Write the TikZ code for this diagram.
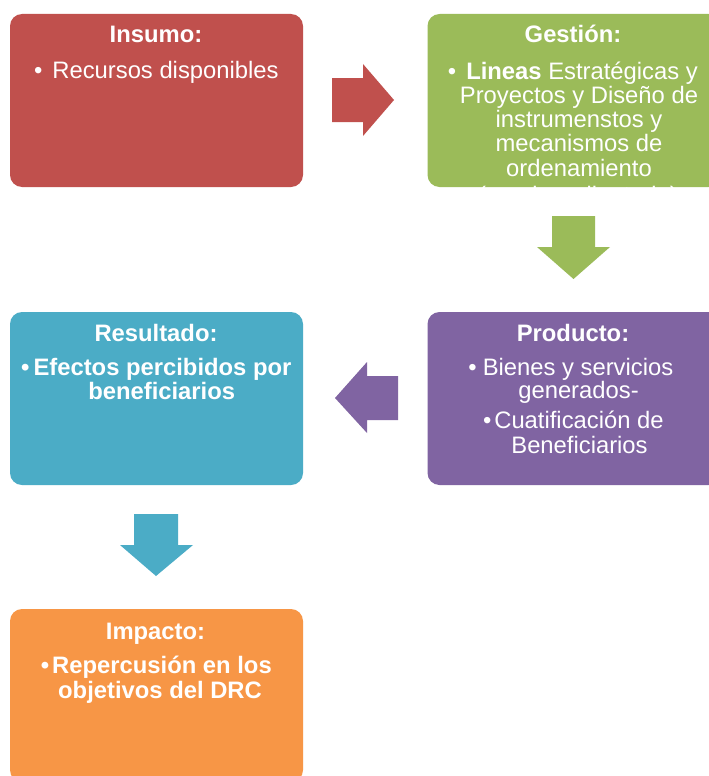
\documentclass[tikz,border=0pt]{standalone}
\usepackage{fontspec}
\setmainfont{Liberation Sans}
\definecolor{cred}{HTML}{C0504D}
\definecolor{cgreen}{HTML}{9BBB59}
\definecolor{cpurple}{HTML}{8064A2}
\definecolor{cteal}{HTML}{4BACC6}
\definecolor{corange}{HTML}{F79646}
\newcommand\mybul[1]{\llap{\textbullet\hspace{#1}}}
\begin{document}
\begin{tikzpicture}[x=1pt,y=-1pt,
  box/.style={rectangle, rounded corners=12pt, inner sep=0pt, minimum width=293pt, minimum height=173pt},
  ttl/.style={anchor=base, text=white, inner sep=0pt, font=\fontsize{23.8}{24}\selectfont\bfseries},
  txt/.style={anchor=base, text=white, inner sep=0pt, font=\fontsize{23.8}{24}\selectfont},
  btxt/.style={anchor=base, text=white, inner sep=0pt, font=\fontsize{23.8}{24}\selectfont\bfseries}]
\useasboundingbox (0,0) rectangle (709,776);
\clip (0,0) rectangle (709,776);
\fill[white] (0,0) rectangle (709,776);
% boxes
\node[box, fill=cred]    (insumo)    at (156.5,100.5) {};
\node[box, fill=cgreen]  (gestion)   at (574,100.5) {};
\node[box, fill=cpurple] (producto)  at (574,398.5) {};
\node[box, fill=cteal]   (resultado) at (156.5,398.5) {};
\node[box, fill=corange] (impacto)   at (156.5,695.5) {};
% block arrows
\fill[cred] (332,78) -- (363,78) -- (363,64) -- (394,100) -- (363,136) -- (363,122) -- (332,122) -- cycle;
\fill[cgreen] (552,216) -- (595,216) -- (595,247) -- (610,247) -- (573.5,279) -- (537,247) -- (552,247) -- cycle;
\fill[cpurple] (398,376) -- (398,420) -- (367,420) -- (367,433) -- (335,398) -- (367,362) -- (367,376) -- cycle;
\fill[cteal] (134,514) -- (178,514) -- (178,545) -- (193,545) -- (156,576) -- (120,545) -- (134,545) -- cycle;
% Insumo
\node[ttl] (insumo-t) at (156,43) {Insumo:};
\node[txt] (insumo-1) at (165.5,78) {\mybul{10pt}Recursos disponibles};
% Gestion
\node[ttl] (gestion-t) at (573,43) {Gestión:};
\node[txt] (gestion-1) at (582,79) {\mybul{10pt}\textbf{Lineas} Estratégicas y};
\node[txt] (gestion-2) at (579,103) {Proyectos y Diseño de};
\node[txt] (gestion-3) at (579,127) {instrumenstos y};
\node[txt] (gestion-4) at (579,151.5) {mecanismos de};
\node[txt] (gestion-5) at (579,176) {ordenamiento};
\node[txt] (gestion-6) at (578,203) {(cuadro adjuntado)};
% Producto
\node[ttl] (producto-t) at (573,341) {Producto:};
\node[txt] (producto-1) at (578,375.5) {\mybul{6pt}Bienes y servicios};
\node[txt] (producto-2) at (578.5,398) {generados-};
\node[txt] (producto-3) at (579,428) {\mybul{3pt}Cuatificación de};
\node[txt] (producto-4) at (579.5,453) {Beneficiarios};
% Resultado
\node[ttl] (resultado-t) at (156,341) {Resultado:};
\node[btxt] (resultado-1) at (162.5,375) {\mybul{4pt}Efectos percibidos por};
\node[btxt] (resultado-2) at (161.7,399.5) {beneficiarios};
% Impacto
\node[ttl] (impacto-t) at (155.5,639) {Impacto:};
\node[btxt] (impacto-1) at (162,673) {\mybul{3pt}Repercusión en los};
\node[btxt] (impacto-2) at (160,698) {objetivos del DRC};
\end{tikzpicture}
\end{document}
